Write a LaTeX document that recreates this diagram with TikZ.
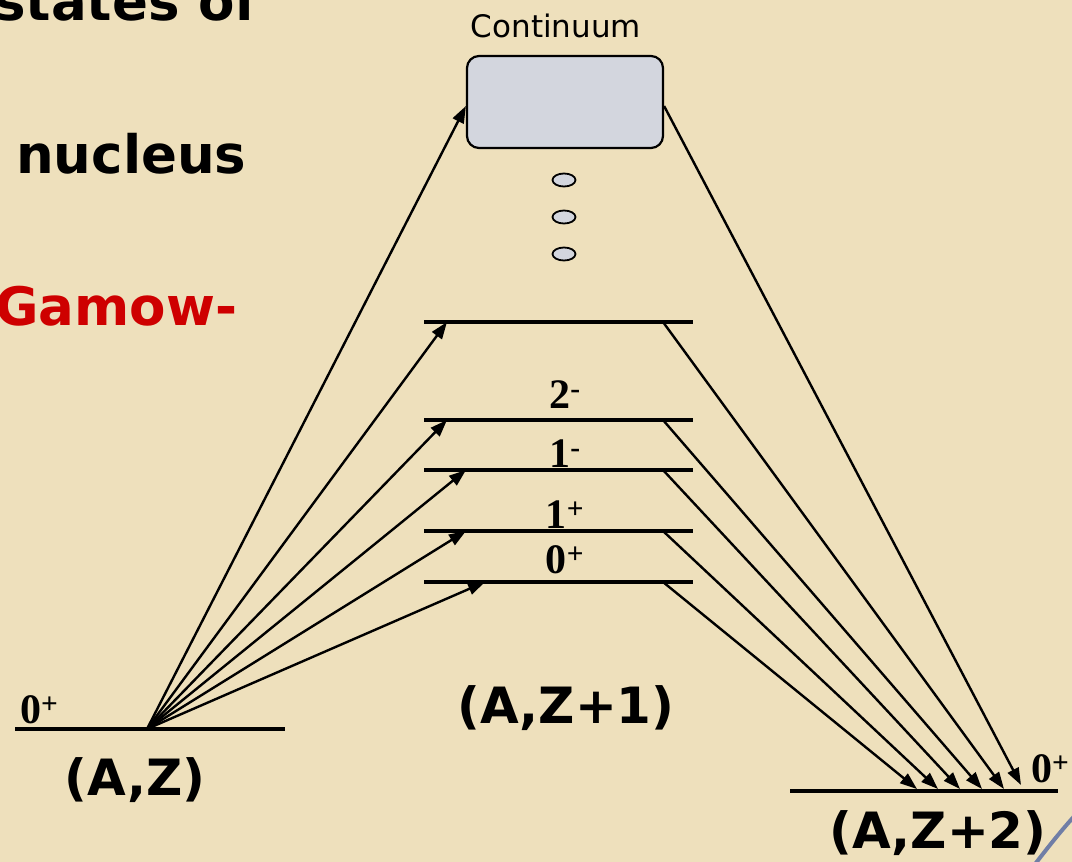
\documentclass[tikz,border=0pt]{standalone}
\usepackage{fontspec}
\setmainfont{Liberation Serif}
\newfontfamily\comicfont{DejaVu Sans}
\usetikzlibrary{positioning,arrows.meta,shapes.geometric}

\definecolor{parchment}{RGB}{238,224,188}
\definecolor{boxgray}{RGB}{211,214,222}
\definecolor{gamowred}{RGB}{206,0,0}
\definecolor{slideblue}{RGB}{112,126,166}

\tikzset{
  level/.style={line width=3.5pt},
  trans/.style={line width=2.4pt,-{Triangle[length=17pt,width=12pt]}},
  spin/.style={font=\bfseries\fontsize{42}{42}\selectfont,inner sep=0pt,anchor=base},
  nucl/.style={font=\comicfont\bfseries\fontsize{50}{50}\selectfont,inner sep=0pt},
  slide/.style={font=\comicfont\bfseries\fontsize{53}{53}\selectfont,inner sep=0pt,anchor=base west},
  contbox/.style={draw,line width=2.2pt,fill=boxgray,rounded corners=12pt,
    minimum width=196pt,minimum height=92pt},
  dotstate/.style={draw,ellipse,line width=1.8pt,fill=boxgray,
    minimum width=23pt,minimum height=13pt,inner sep=0pt}
}

\begin{document}
\begin{tikzpicture}[x=1pt,y=-1pt]
\useasboundingbox (0,0) rectangle (1072,862);
\clip (0,0) rectangle (1072,862);
\fill[parchment] (0,0) rectangle (1072,862);

% slide text at the left edge
\node[slide] (txt1) at (-6,20) {states of};
\node[slide] (txt2) at (16,173) {nucleus};
\node[slide,text=gamowred] (txt3) at (-5,325) {Gamow-};

% continuum and dots
\node[contbox] (cont) at (565,102) {};
\node[font=\comicfont\fontsize{31}{31}\selectfont,inner sep=0pt,anchor=base]
  (contlbl) at (556,37) {Continuum};
\node[dotstate] (dot1) at (564,180) {};
\node[dotstate] (dot2) at (564,217) {};
\node[dotstate] (dot3) at (564,254) {};

% intermediate states of (A,Z+1)
\foreach \n/\y/\xin in {e/322/447, d/420/447, c/470/466, b/531/466, a/582/485} {
  \draw[level] (424,\y) coordinate (\n w) -- (693,\y) coordinate (\n e);
  \coordinate (\n in) at (\xin,\y);
  \coordinate (\n out) at (663,\y);
}
\node[spin] (sd) at (565,408) {2\textsuperscript{-}};
\node[spin] (sc) at (565,467) {1\textsuperscript{-}};
\node[spin] (sb) at (565,528) {1\textsuperscript{+}};
\node[spin] (sa) at (565,573) {0\textsuperscript{+}};
\node[nucl] (mid) at (566,708) {(A,Z+1)};

% initial state (A,Z)
\draw[level] (15,729) coordinate (iw) -- (285,729) coordinate (ie);
\coordinate (src) at (147,729);
\node[spin,anchor=base west] (si) at (20,723) {0\textsuperscript{+}};
\node[nucl] (init) at (135,780) {(A,Z)};

% final state (A,Z+2)
\draw[level] (790,791) coordinate (fw) -- (1058,791) coordinate (fe);
\node[spin,anchor=base west] (sf) at (1031,782) {0\textsuperscript{+}};
\node[nucl] (fin) at (938,833) {(A,Z+2)};
\coordinate (ta) at (917,789);
\coordinate (tb) at (938,789);
\coordinate (tc) at (960,789);
\coordinate (td) at (982,789);
\coordinate (te) at (1004,789);
\coordinate (tf) at (1021,785);

% first step
\draw[trans] (src) -- ([yshift=-4pt]cont.west);
\foreach \n in {a,b,c,d,e}
  \draw[trans] (src) -- (\n in);

% second step
\foreach \n in {a,b,c,d,e}
  \draw[trans] (\n out) -- (t\n);
\draw[trans] ([yshift=-4pt]cont.east) -- (tf);

% slide frame corner
\draw[slideblue,line width=4pt] (1032,868) .. controls (1046,850) and (1058,834) .. (1078,812);
\end{tikzpicture}
\end{document}
